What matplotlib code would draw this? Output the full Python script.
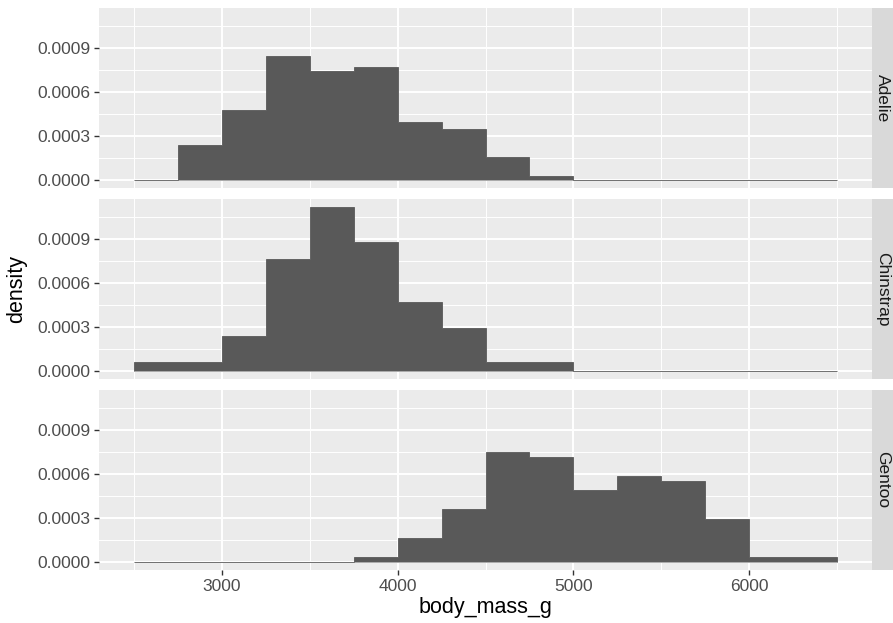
import matplotlib
matplotlib.use("Agg")
import matplotlib.pyplot as plt
import numpy as np

plt.rcParams['font.family'] = ['Liberation Sans', 'DejaVu Sans']

# histogram bins (binwidth 250) and densities
bin_edges = [2500, 2750, 3000, 3250, 3500, 3750, 4000, 4250, 4500,
             4750, 5000, 5250, 5500, 5750, 6000, 6250, 6500]
species = ["Adelie", "Chinstrap", "Gentoo"]
adelie = [0.0, 0.000238, 0.000477, 0.000848, 0.000742, 0.000768, 0.000397,
          0.000344, 0.000159, 0.0000265, 0, 0, 0, 0, 0, 0]
chinstrap = [0.0000588, 0.0000588, 0.000235, 0.000765, 0.001118, 0.000882,
             0.000471, 0.000294, 0.0000588, 0.0000588, 0, 0, 0, 0, 0, 0]
gentoo = [0, 0, 0, 0, 0, 0.0000325, 0.000163, 0.000358, 0.000748, 0.000715,
          0.000488, 0.000585, 0.000553, 0.000293, 0.0000325, 0.0000325]
densities = [adelie, chinstrap, gentoo]

y_ticks = [0.0, 0.0003, 0.0006, 0.0009]
y_minor = [0.00015, 0.00045, 0.00075, 0.00105]
x_ticks = [3000, 4000, 5000, 6000]
x_minor = [2500, 3500, 4500, 5500, 6500]

W, H = 893, 623
fig = plt.figure(figsize=(W / 100, H / 100), dpi=100)

left, right = 99, 872
tops = [8, 199, 390]
ph = 180
ymax = 0.001118 * 1.05
ymin = -0.001118 * 0.05

for i, (name, dens) in enumerate(zip(species, densities)):
    ax = fig.add_axes([left / W, 1 - (tops[i] + ph) / H, (right - left) / W, ph / H])
    ax.set_facecolor("#EBEBEB")
    for s in ax.spines.values():
        s.set_visible(False)
    for v in y_minor:
        ax.axhline(v, color="white", lw=0.7, zorder=0)
    for v in x_minor:
        ax.axvline(v, color="white", lw=0.7, zorder=0)
    for v in y_ticks:
        ax.axhline(v, color="white", lw=1.4, zorder=0)
    for v in x_ticks:
        ax.axvline(v, color="white", lw=1.4, zorder=0)
    # one filled step outline, so no seams between bars
    ax.stairs(dens, bin_edges, fill=True, facecolor="#595959",
              edgecolor="#595959", linewidth=0.6, zorder=2)
    ax.set_xlim(2300, 6700)
    ax.set_ylim(ymin, ymax)
    ax.set_yticks(y_ticks)
    ax.set_yticklabels(["%.4f" % v for v in y_ticks])
    ax.set_xticks(x_ticks)
    ax.tick_params(colors="#333333", length=3.3, width=1.0, labelcolor="#4D4D4D",
                   labelsize=12.5, pad=3)
    if i < 2:
        ax.tick_params(axis="x", bottom=False, labelbottom=False)
    else:
        ax.set_xlabel("body_mass_g", fontsize=15.5, labelpad=2)
    # facet strip on the right
    sax = fig.add_axes([right / W, 1 - (tops[i] + ph) / H, 21 / W, ph / H])
    sax.set_facecolor("#D9D9D9")
    sax.set_xticks([])
    sax.set_yticks([])
    for s in sax.spines.values():
        s.set_visible(False)
    sax.text(0.5, 0.5, name, rotation=-90, ha="center", va="center",
             fontsize=12.5, color="#1A1A1A", transform=sax.transAxes)

fig.text(17 / W, 1 - 289 / H, "density", rotation=90, ha="center", va="center",
         fontsize=15.5)

fig.savefig("out.png", dpi=100)
